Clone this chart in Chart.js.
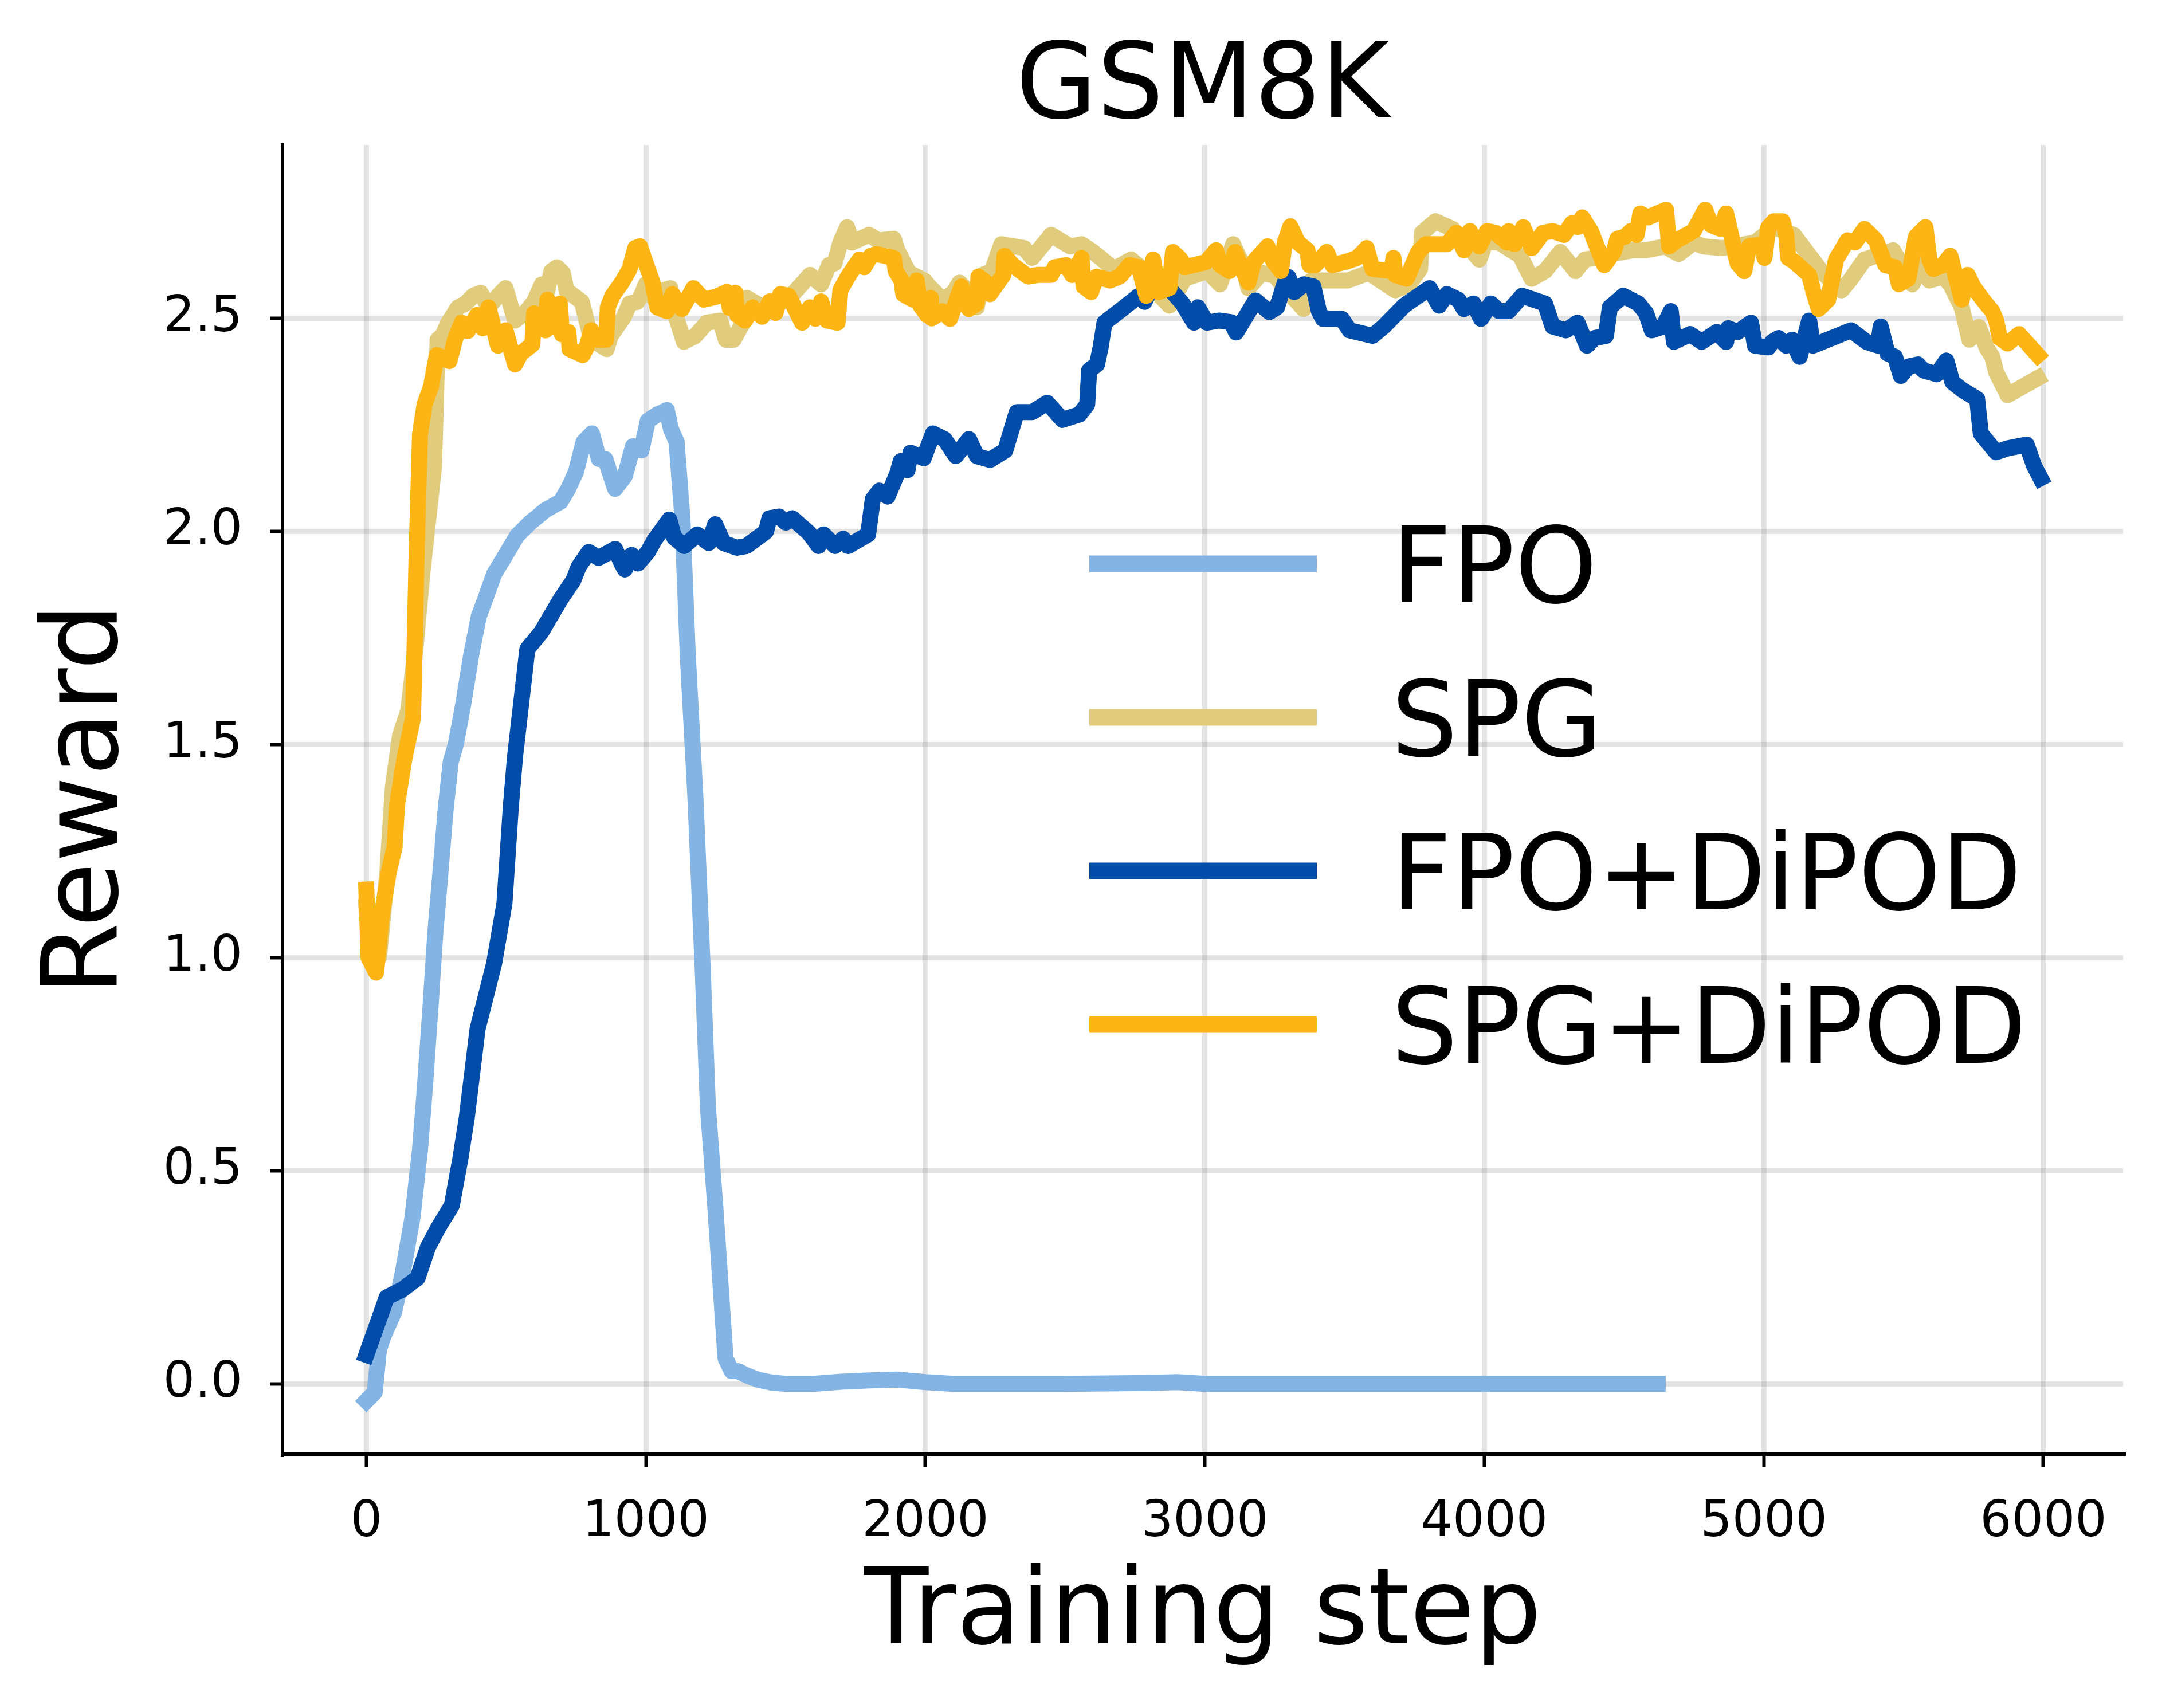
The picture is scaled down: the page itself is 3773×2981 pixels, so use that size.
<!DOCTYPE html>
<html lang="en">
<head>
  <meta charset="UTF-8">
  <title>GSM8K reward curves</title>
  <script src="https://cdn.jsdelivr.net/npm/chart.js"></script>
  <style>
    html, body { margin: 0; padding: 0; background: #fff; }
    canvas { display: block; }
  </style>
</head>
<body>
  <canvas id="rewardChart" width="3773" height="2981"></canvas>

  <script>
    const chartTitle = 'GSM8K';
    const xTitle = 'Training step';
    const yTitle = 'Reward';
    const xTicks = [0, 1000, 2000, 3000, 4000, 5000, 6000];
    const yTicks = [0.0, 0.5, 1.0, 1.5, 2.0, 2.5];
    const seriesLabels = ['FPO', 'SPG', 'FPO+DiPOD', 'SPG+DiPOD'];
    const seriesColors = ['#83b4e3', '#e1cc7e', '#024caa', '#fdb515'];

    // FPO
    const fpoSteps = [0, 30, 45, 60, 100, 130, 165, 192, 210, 229,
      247, 265, 284, 302, 320, 348, 375, 402, 430, 457,
      494, 539, 585, 640, 695, 722, 750, 777, 807, 832,
      855, 890, 925, 954, 984, 1007, 1042, 1060, 1075, 1090,
      1110, 1131, 1150, 1177, 1203, 1222, 1248, 1285, 1307, 1330,
      1360, 1400, 1450, 1500, 1600, 1700, 1800, 1900, 2000, 2100,
      2500, 2800, 2900, 3000, 3500, 4000, 4620];
    const fpoReward = [-0.04, -0.02, 0.08, 0.11, 0.17, 0.26, 0.39, 0.55, 0.70, 0.88,
      1.06, 1.20, 1.35, 1.46, 1.50, 1.60, 1.71, 1.80, 1.85, 1.90,
      1.94, 1.99, 2.02, 2.05, 2.07, 2.10, 2.14, 2.21, 2.23, 2.17,
      2.17, 2.10, 2.13, 2.20, 2.19, 2.26, 2.275, 2.28, 2.285, 2.24,
      2.21, 2.03, 1.71, 1.38, 0.98, 0.65, 0.42, 0.06, 0.03, 0.03,
      0.02, 0.01, 0.003, 0.0, 0.0, 0.005, 0.008, 0.01, 0.004, 0.0,
      0.0, 0.002, 0.004, 0.0, 0.0, 0.0, 0.0];

    // SPG
    const spgSteps = [0, 20, 45, 75, 95, 120, 150, 175, 200, 225,
      242, 255, 273, 293, 328, 355, 382, 409, 437, 471,
      498, 532, 573, 600, 628, 648, 662, 682, 703, 716,
      771, 798, 819, 860, 874, 921, 942, 969, 983, 1000,
      1041, 1061, 1088, 1110, 1136, 1177, 1218, 1266, 1286, 1314,
      1348, 1361, 1436, 1480, 1530, 1587, 1627, 1655, 1675, 1696,
      1720, 1737, 1798, 1832, 1887, 1900, 1941, 1996, 2020, 2061,
      2100, 2122, 2160, 2184, 2204, 2238, 2272, 2354, 2382, 2450,
      2518, 2559, 2600, 2675, 2736, 2777, 2830, 2873, 2927, 3009,
      3054, 3101, 3135, 3156, 3204, 3250, 3300, 3354, 3381, 3463,
      3511, 3586, 3681, 3730, 3770, 3777, 3825, 3886, 3940, 3982,
      4005, 4053, 4128, 4169, 4217, 4272, 4326, 4360, 4394, 4450,
      4531, 4579, 4647, 4695, 4749, 4783, 4852, 4968, 4995, 5036,
      5107, 5189, 5210, 5278, 5312, 5360, 5462, 5531, 5571, 5592,
      5640, 5667, 5708, 5735, 5769, 5797, 5817, 5831, 5872, 5980];
    const spgReward = [1.12, 1.0, 1.0, 1.2, 1.40, 1.52, 1.58, 1.72, 1.90, 2.05,
      2.15, 2.45, 2.46, 2.49, 2.526, 2.535, 2.553, 2.56, 2.526, 2.553,
      2.571, 2.495, 2.517, 2.539, 2.58, 2.566, 2.611, 2.62, 2.607, 2.566,
      2.539, 2.468, 2.445, 2.428, 2.459, 2.503, 2.535, 2.539, 2.553, 2.58,
      2.535, 2.566, 2.571, 2.50, 2.445, 2.459, 2.49, 2.495, 2.45, 2.45,
      2.49, 2.548, 2.52, 2.535, 2.56, 2.602, 2.58, 2.625, 2.629, 2.678,
      2.714, 2.678, 2.696, 2.683, 2.687, 2.66, 2.607, 2.589, 2.571, 2.544,
      2.56, 2.584, 2.56, 2.526, 2.602, 2.611, 2.674, 2.665, 2.642, 2.696,
      2.669, 2.674, 2.656, 2.616, 2.638, 2.616, 2.56, 2.53, 2.593, 2.611,
      2.58, 2.674, 2.625, 2.571, 2.607, 2.60, 2.56, 2.522, 2.589, 2.589,
      2.589, 2.607, 2.566, 2.58, 2.616, 2.701, 2.728, 2.71, 2.67, 2.638,
      2.68, 2.678, 2.647, 2.593, 2.611, 2.656, 2.611, 2.638, 2.642, 2.65,
      2.66, 2.66, 2.669, 2.651, 2.678, 2.669, 2.665, 2.678, 2.692, 2.714,
      2.696, 2.625, 2.607, 2.566, 2.593, 2.638, 2.66, 2.58, 2.629, 2.589,
      2.598, 2.58, 2.526, 2.45, 2.48, 2.431, 2.41, 2.374, 2.32, 2.36];

    // FPO+DiPOD
    const fpoDipodSteps = [0, 73, 128, 183, 220, 256, 306, 336, 359, 398,
      457, 494, 517, 532, 576, 626, 695, 741, 760, 796,
      831, 890, 913, 925, 949, 972, 1007, 1031, 1084, 1101,
      1137, 1184, 1225, 1248, 1278, 1325, 1360, 1430, 1442, 1477,
      1501, 1524, 1583, 1618, 1636, 1677, 1706, 1724, 1795, 1812,
      1836, 1865, 1900, 1912, 1936, 1947, 1994, 2027, 2068, 2109,
      2156, 2184, 2231, 2286, 2327, 2382, 2436, 2491, 2552, 2579,
      2586, 2614, 2627, 2641, 2702, 2764, 2784, 2830, 2880, 2920,
      2961, 2975, 3007, 3050, 3094, 3112, 3181, 3231, 3258, 3286,
      3299, 3320, 3354, 3388, 3408, 3422, 3490, 3518, 3600, 3640,
      3715, 3804, 3838, 3866, 3907, 3927, 3961, 3988, 4023, 4053,
      4087, 4135, 4217, 4244, 4292, 4333, 4367, 4394, 4435, 4449,
      4497, 4551, 4579, 4599, 4640, 4667, 4678, 4736, 4777, 4831,
      4865, 4872, 4906, 4954, 4968, 5016, 5030, 5053, 5080, 5101,
      5128, 5162, 5176, 5312, 5367, 5408, 5418, 5442, 5469, 5490,
      5517, 5551, 5571, 5619, 5653, 5674, 5708, 5763, 5776, 5831,
      5872, 5940, 5967, 5990];
    const fpoDipodReward = [0.068, 0.203, 0.221, 0.248, 0.32, 0.365, 0.419, 0.527, 0.623, 0.833,
      0.986, 1.127, 1.355, 1.472, 1.724, 1.764, 1.841, 1.886, 1.918, 1.952,
      1.938, 1.959, 1.925, 1.911, 1.945, 1.925, 1.952, 1.98, 2.028, 1.986,
      1.966, 1.993, 1.973, 2.017, 1.973, 1.962, 1.966, 2.0, 2.031, 2.035,
      2.021, 2.031, 1.997, 1.966, 1.993, 1.966, 1.983, 1.966, 1.993, 2.076,
      2.096, 2.082, 2.137, 2.165, 2.144, 2.185, 2.172, 2.23, 2.217, 2.177,
      2.217, 2.177, 2.168, 2.19, 2.28, 2.28, 2.302, 2.262, 2.275, 2.298,
      2.378, 2.392, 2.432, 2.49, 2.521, 2.553, 2.539, 2.60, 2.565, 2.535,
      2.49, 2.526, 2.49, 2.495, 2.491, 2.467, 2.542, 2.515, 2.526, 2.584,
      2.597, 2.562, 2.58, 2.575, 2.517, 2.499, 2.499, 2.472, 2.459, 2.481,
      2.531, 2.571, 2.53, 2.557, 2.544, 2.522, 2.535, 2.499, 2.535, 2.517,
      2.517, 2.553, 2.535, 2.481, 2.472, 2.49, 2.436, 2.454, 2.459, 2.526,
      2.553, 2.535, 2.512, 2.472, 2.481, 2.517, 2.445, 2.463, 2.445, 2.468,
      2.445, 2.477, 2.468, 2.49, 2.436, 2.432, 2.445, 2.454, 2.436, 2.45,
      2.41, 2.495, 2.436, 2.472, 2.445, 2.436, 2.481, 2.418, 2.41, 2.365,
      2.387, 2.392, 2.378, 2.369, 2.401, 2.351, 2.333, 2.311, 2.23, 2.186,
      2.195, 2.204, 2.154, 2.125];

    // SPG+DiPOD
    const spgDipodSteps = [0, 8, 35, 55, 80, 101, 110, 137, 167, 180,
      192, 208, 232, 252, 297, 317, 341, 362, 396, 416,
      437, 471, 498, 532, 553, 594, 600, 641, 648, 669,
      693, 699, 723, 727, 774, 788, 805, 819, 858, 864,
      880, 914, 942, 962, 979, 1000, 1024, 1041, 1075, 1095,
      1129, 1170, 1208, 1252, 1290, 1300, 1320, 1327, 1355, 1382,
      1416, 1443, 1464, 1481, 1511, 1559, 1587, 1607, 1627, 1648,
      1686, 1696, 1723, 1764, 1781, 1805, 1825, 1887, 1894, 1914,
      1921, 1955, 1969, 1982, 2006, 2020, 2023, 2061, 2088, 2129,
      2156, 2184, 2190, 2218, 2231, 2279, 2283, 2313, 2368, 2402,
      2450, 2463, 2504, 2525, 2559, 2566, 2593, 2613, 2661, 2695,
      2730, 2764, 2791, 2815, 2835, 2873, 2886, 2914, 2927, 3004,
      3040, 3054, 3088, 3108, 3130, 3156, 3176, 3224, 3245, 3272,
      3286, 3306, 3333, 3367, 3374, 3395, 3436, 3456, 3511, 3545,
      3579, 3599, 3668, 3675, 3681, 3722, 3763, 3791, 3866, 3900,
      3927, 3948, 3968, 3982, 4009, 4040, 4081, 4087, 4108, 4139,
      4169, 4210, 4244, 4285, 4313, 4333, 4350, 4381, 4429, 4463,
      4476, 4504, 4524, 4545, 4558, 4586, 4650, 4661, 4688, 4749,
      4790, 4811, 4845, 4865, 4906, 4930, 4947, 4995, 5002, 5016,
      5036, 5067, 5080, 5087, 5107, 5162, 5176, 5196, 5230, 5258,
      5299, 5326, 5360, 5401, 5435, 5469, 5483, 5517, 5544, 5578,
      5592, 5606, 5640, 5667, 5708, 5729, 5749, 5783, 5817, 5831,
      5844, 5872, 5913, 5980];
    const spgDipodReward = [1.16, 1.0, 0.965, 1.10, 1.20, 1.26, 1.36, 1.47, 1.563, 1.95,
      2.228, 2.297, 2.342, 2.414, 2.40, 2.45, 2.49, 2.47, 2.508, 2.477,
      2.526, 2.436, 2.472, 2.392, 2.418, 2.439, 2.512, 2.472, 2.544, 2.481,
      2.535, 2.463, 2.468, 2.428, 2.414, 2.432, 2.472, 2.45, 2.45, 2.526,
      2.553, 2.584, 2.616, 2.665, 2.669, 2.629, 2.584, 2.526, 2.517, 2.557,
      2.522, 2.571, 2.544, 2.551, 2.562, 2.524, 2.56, 2.508, 2.495, 2.526,
      2.504, 2.54, 2.513, 2.557, 2.553, 2.49, 2.526, 2.499, 2.54, 2.495,
      2.49, 2.566, 2.598, 2.638, 2.62, 2.647, 2.651, 2.642, 2.611, 2.589,
      2.557, 2.544, 2.589, 2.53, 2.508, 2.548, 2.50, 2.517, 2.499, 2.575,
      2.522, 2.535, 2.598, 2.584, 2.557, 2.602, 2.647, 2.625, 2.598, 2.602,
      2.602, 2.62, 2.625, 2.602, 2.642, 2.575, 2.562, 2.598, 2.589, 2.598,
      2.625, 2.62, 2.553, 2.638, 2.562, 2.571, 2.656, 2.638, 2.62, 2.632,
      2.66, 2.625, 2.611, 2.656, 2.62, 2.584, 2.634, 2.669, 2.634, 2.611,
      2.678, 2.716, 2.678, 2.66, 2.625, 2.625, 2.656, 2.625, 2.634, 2.642,
      2.665, 2.616, 2.611, 2.642, 2.602, 2.593, 2.656, 2.674, 2.674, 2.701,
      2.66, 2.705, 2.678, 2.669, 2.705, 2.701, 2.678, 2.705, 2.674, 2.714,
      2.665, 2.701, 2.705, 2.696, 2.723, 2.714, 2.737, 2.705, 2.625, 2.656,
      2.687, 2.692, 2.705, 2.696, 2.746, 2.737, 2.755, 2.669, 2.683, 2.705,
      2.755, 2.719, 2.71, 2.746, 2.629, 2.611, 2.669, 2.674, 2.642, 2.714,
      2.728, 2.728, 2.696, 2.642, 2.634, 2.602, 2.566, 2.522, 2.544, 2.638,
      2.683, 2.678, 2.71, 2.683, 2.625, 2.62, 2.58, 2.593, 2.692, 2.714,
      2.638, 2.616, 2.625, 2.647, 2.544, 2.602, 2.575, 2.544, 2.517, 2.495,
      2.454, 2.441, 2.463, 2.414];

    const FONT = "'DejaVu Sans', sans-serif";
    Chart.defaults.font.family = FONT;
    Chart.defaults.color = '#000';

    function toPoints(steps, values) {
      return steps.map((s, i) => ({ x: s, y: values[i] }));
    }

    const seriesData = [
      toPoints(fpoSteps, fpoReward),
      toPoints(spgSteps, spgReward),
      toPoints(fpoDipodSteps, fpoDipodReward),
      toPoints(spgDipodSteps, spgDipodReward)
    ];

    // matplotlib draws later series on top; lower order = drawn last in Chart.js
    const drawOrder = [4, 3, 2, 1];

    const datasets = seriesLabels.map((label, i) => ({
      label: label,
      data: seriesData[i],
      borderColor: seriesColors[i],
      backgroundColor: seriesColors[i],
      borderWidth: 28,
      borderJoinStyle: 'round',
      borderCapStyle: 'square',
      pointRadius: 0,
      tension: 0,
      fill: false,
      order: drawOrder[i]
    }));

    // title centred over the plot area, like matplotlib
    const plotTitle = {
      id: 'plotTitle',
      afterDraw(chart) {
        const { ctx, chartArea } = chart;
        ctx.save();
        ctx.font = '183px ' + FONT;
        ctx.fillStyle = '#000';
        ctx.textAlign = 'center';
        ctx.textBaseline = 'alphabetic';
        ctx.fillText(chartTitle, (chartArea.left + chartArea.right) / 2, 205);
        ctx.restore();
      }
    };

    // frameless legend inside the axes
    const insideLegend = {
      id: 'insideLegend',
      afterDraw(chart) {
        const ctx = chart.ctx;
        ctx.save();
        ctx.font = '183px ' + FONT;
        ctx.textBaseline = 'alphabetic';
        ctx.textAlign = 'left';
        chart.data.datasets.forEach((ds, i) => {
          const y = 984 + i * 268;
          ctx.strokeStyle = ds.borderColor;
          ctx.lineWidth = 29;
          ctx.lineCap = 'butt';
          ctx.beginPath();
          ctx.moveTo(1901, y);
          ctx.lineTo(2298, y);
          ctx.stroke();
          ctx.fillStyle = '#000';
          ctx.fillText(ds.label, 2428, y + 67);
        });
        ctx.restore();
      }
    };

    const gridColor = 'rgba(128,128,128,0.22)';

    new Chart(document.getElementById('rewardChart').getContext('2d'), {
      type: 'line',
      data: { datasets: datasets },
      options: {
        responsive: false,
        animation: false,
        events: [],
        layout: { padding: { top: 253, right: 68, bottom: 0, left: 0 } },
        plugins: {
          legend: { display: false },
          tooltip: { enabled: false },
          title: { display: false }
        },
        scales: {
          x: {
            type: 'linear',
            min: -300,
            max: 6285,
            afterBuildTicks: axis => { axis.ticks = xTicks.map(v => ({ value: v })); },
            afterFit: axis => { axis.height = 443; },
            ticks: {
              font: { size: 87 },
              color: '#000',
              padding: 46,
              maxRotation: 0,
              autoSkip: false,
              callback: v => String(v)
            },
            grid: {
              color: gridColor,
              lineWidth: 9,
              drawTicks: true,
              tickLength: 22,
              tickColor: '#000',
              tickWidth: 6
            },
            border: { display: true, color: '#000', width: 6 },
            title: {
              display: true,
              text: xTitle,
              font: { size: 184 },
              color: '#000',
              padding: { top: 0, bottom: 50 }
            }
          },
          y: {
            type: 'linear',
            min: -0.165,
            max: 2.907,
            afterBuildTicks: axis => { axis.ticks = yTicks.map(v => ({ value: v })); },
            afterFit: axis => { axis.width = 493; },
            ticks: {
              font: { size: 87 },
              color: '#000',
              padding: 48,
              autoSkip: false,
              callback: v => v.toFixed(1)
            },
            grid: {
              color: gridColor,
              lineWidth: 9,
              drawTicks: true,
              tickLength: 22,
              tickColor: '#000',
              tickWidth: 6
            },
            border: { display: true, color: '#000', width: 6 },
            title: {
              display: true,
              text: yTitle,
              font: { size: 184 },
              color: '#000',
              padding: { top: 46, bottom: 0 }
            }
          }
        }
      },
      plugins: [plotTitle, insideLegend]
    });
  </script>
</body>
</html>
